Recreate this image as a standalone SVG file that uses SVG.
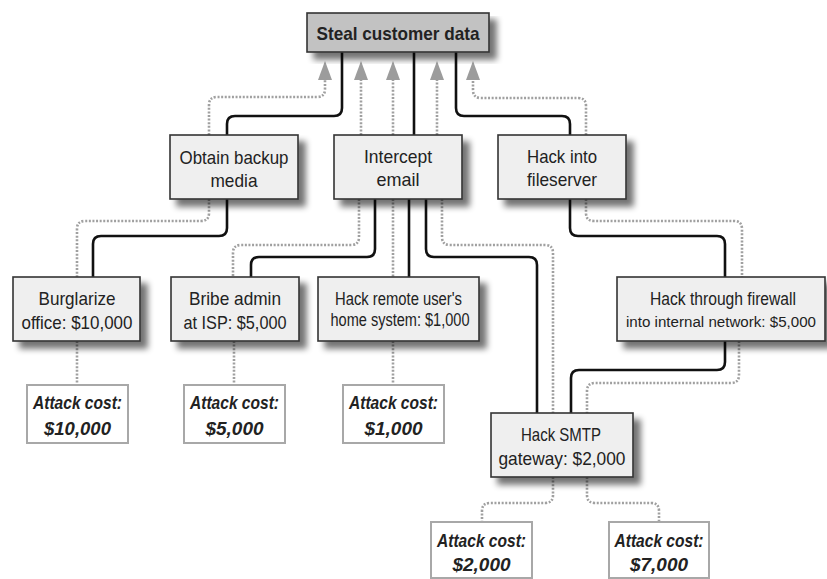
<svg xmlns="http://www.w3.org/2000/svg" width="827" height="579" viewBox="0 0 827 579">
<style>
  .box { fill: #efefef; stroke: #333; stroke-width: 1.6; filter: url(#shadow); }
  .root { fill: #c2c2c2; stroke: #333; stroke-width: 1.6; filter: url(#shadow); }
  .cost { fill: #ffffff; stroke: #a8a8a8; stroke-width: 2; }
  .t { font-family: "Liberation Sans", Arial, sans-serif; font-size: 19px; fill: #222; text-anchor: middle; }
  .tb { font-weight: bold; }
  .ts { font-size: 17.5px; }
  .tn { font-size: 15.5px; }
  .tc { font-family: "Liberation Sans", Arial, sans-serif; font-size: 18px; font-weight: bold; font-style: italic; fill: #222; text-anchor: middle; }
  .solid { fill: none; stroke: #111; stroke-width: 2.6; }
  .dot { fill: none; stroke: #a0a0a0; stroke-width: 2.6; stroke-dasharray: 2 1.6; }
</style>
<defs>
  <filter id="shadow" x="-10%" y="-10%" width="130%" height="140%">
    <feGaussianBlur in="SourceAlpha" stdDeviation="3"/>
    <feOffset dx="7" dy="7" result="b"/>
    <feComponentTransfer in="b" result="s"><feFuncA type="linear" slope="0.55"/></feComponentTransfer>
    <feMerge><feMergeNode in="s"/><feMergeNode in="SourceGraphic"/></feMerge>
  </filter>
  <marker id="arrow" markerUnits="userSpaceOnUse" markerWidth="19" markerHeight="14" refX="0" refY="7" orient="auto" viewBox="0 0 19 14">
    <path d="M0,0 L19,7 L0,14 z" fill="#9c9c9c"/>
  </marker>
</defs>

<g id="connectors">
  <path class="solid" d="M342,52 V108 Q342,116 334,116 H235 Q227,116 227,124 V135"/>
  <path class="solid" d="M414,52 V135"/>
  <path class="solid" d="M456,52 V108 Q456,116 464,116 H562 Q570,116 570,124 V135"/>
  <path class="dot" marker-end="url(#arrow)" d="M209,135 V105 Q209,97 217,97 H317 Q325,97 325,89 V80"/>
  <path class="dot" marker-end="url(#arrow)" d="M361,135 V80"/>
  <path class="dot" marker-end="url(#arrow)" d="M393,135 V80"/>
  <path class="dot" marker-end="url(#arrow)" d="M437,135 V80"/>
  <path class="dot" marker-end="url(#arrow)" d="M586,135 V106 Q586,98 578,98 H481 Q473,98 473,90 V80"/>
  <path class="solid" d="M227,199 V228 Q227,236 219,236 H101 Q93,236 93,244 V277"/>
  <path class="dot" d="M209,199 V213 Q209,221 201,221 H85 Q77,221 77,229 V277"/>
  <path class="solid" d="M375,199 V249 Q375,257 367,257 H259 Q251,257 251,265 V277"/>
  <path class="dot" d="M359,199 V237 Q359,245 351,245 H241 Q233,245 233,253 V277"/>
  <path class="solid" d="M409,199 V277"/>
  <path class="dot" d="M393,199 V277"/>
  <path class="solid" d="M426,199 V249 Q426,257 434,257 H529 Q537,257 537,265 V413"/>
  <path class="dot" d="M442,199 V237 Q442,245 450,245 H545 Q553,245 553,253 V413"/>
  <path class="solid" d="M570,199 V228 Q570,236 578,236 H717 Q725,236 725,244 V277"/>
  <path class="dot" d="M586,199 V213 Q586,221 594,221 H734 Q742,221 742,229 V277"/>
  <path class="solid" d="M725,341 V362 Q725,370 717,370 H579 Q571,370 571,378 V413"/>
  <path class="dot" d="M739,341 V375 Q739,383 731,383 H595 Q587,383 587,391 V413"/>
  <path class="dot" d="M553,477 V495 Q553,503 545,503 H490 Q482,503 482,511 V522"/>
  <path class="dot" d="M587,477 V495 Q587,503 595,503 H651 Q659,503 659,511 V522"/>
  <path class="dot" d="M77,341 V385"/>
  <path class="dot" d="M234,341 V385"/>
  <path class="dot" d="M393,341 V385"/>
</g>

<g id="steal">
  <rect class="root" x="307" y="13" width="182" height="39"/>
  <text class="t tb" x="398" y="40" textLength="163" lengthAdjust="spacingAndGlyphs">Steal customer data</text>
</g>
<g id="obtain">
  <rect class="box" x="170" y="135" width="128" height="64"/>
  <text class="t" x="234" y="164" textLength="109" lengthAdjust="spacingAndGlyphs">Obtain backup</text>
  <text class="t" x="234" y="187" textLength="47" lengthAdjust="spacingAndGlyphs">media</text>
</g>
<g id="intercept">
  <rect class="box" x="334" y="135" width="128" height="64"/>
  <text class="t" x="398" y="163" textLength="68" lengthAdjust="spacingAndGlyphs">Intercept</text>
  <text class="t" x="398" y="186" textLength="43" lengthAdjust="spacingAndGlyphs">email</text>
</g>
<g id="fileserver">
  <rect class="box" x="498" y="135" width="128" height="64"/>
  <text class="t" x="562" y="163" textLength="70" lengthAdjust="spacingAndGlyphs">Hack into</text>
  <text class="t" x="562" y="186" textLength="70" lengthAdjust="spacingAndGlyphs">fileserver</text>
</g>
<g id="burglarize">
  <rect class="box" x="13" y="277" width="127" height="64"/>
  <text class="t" x="77" y="305" textLength="77" lengthAdjust="spacingAndGlyphs">Burglarize</text>
  <text class="t" x="77" y="329" textLength="111" lengthAdjust="spacingAndGlyphs">office: $10,000</text>
</g>
<g id="bribe">
  <rect class="box" x="171" y="277" width="128" height="64"/>
  <text class="t" x="235" y="305" textLength="92" lengthAdjust="spacingAndGlyphs">Bribe admin</text>
  <text class="t" x="235" y="329" textLength="103" lengthAdjust="spacingAndGlyphs">at ISP: $5,000</text>
</g>
<g id="remote">
  <rect class="box" x="318" y="277" width="161" height="64"/>
  <text class="t ts" x="398.5" y="305" textLength="127" lengthAdjust="spacingAndGlyphs">Hack remote user's</text>
  <text class="t ts" x="400" y="326" textLength="139" lengthAdjust="spacingAndGlyphs">home system: $1,000</text>
</g>
<g id="firewall">
  <rect class="box" x="617" y="277" width="208" height="64"/>
  <text class="t ts" x="723" y="305" textLength="146" lengthAdjust="spacingAndGlyphs">Hack through firewall</text>
  <text class="t tn" x="721" y="327" textLength="190" lengthAdjust="spacingAndGlyphs">into internal network: $5,000</text>
</g>
<g id="smtp">
  <rect class="box" x="491" y="413" width="142" height="64"/>
  <text class="t" x="561" y="441" textLength="80" lengthAdjust="spacingAndGlyphs">Hack SMTP</text>
  <text class="t" x="562" y="465" textLength="127" lengthAdjust="spacingAndGlyphs">gateway: $2,000</text>
</g>
<g id="cost10000">
  <rect class="cost" x="27" y="385" width="101" height="58"/>
  <text class="tc" x="77.5" y="409" textLength="89" lengthAdjust="spacingAndGlyphs">Attack cost:</text>
  <text class="tc" x="77.5" y="435" textLength="67" lengthAdjust="spacingAndGlyphs">$10,000</text>
</g>
<g id="cost5000">
  <rect class="cost" x="184" y="385" width="101" height="58"/>
  <text class="tc" x="234.5" y="409" textLength="89" lengthAdjust="spacingAndGlyphs">Attack cost:</text>
  <text class="tc" x="234.5" y="435" textLength="58" lengthAdjust="spacingAndGlyphs">$5,000</text>
</g>
<g id="cost1000">
  <rect class="cost" x="343" y="385" width="101" height="58"/>
  <text class="tc" x="393.5" y="409" textLength="89" lengthAdjust="spacingAndGlyphs">Attack cost:</text>
  <text class="tc" x="393.5" y="435" textLength="58" lengthAdjust="spacingAndGlyphs">$1,000</text>
</g>
<g id="cost2000">
  <rect class="cost" x="431" y="522" width="101" height="56"/>
  <text class="tc" x="481.5" y="547" textLength="89" lengthAdjust="spacingAndGlyphs">Attack cost:</text>
  <text class="tc" x="481.5" y="571" textLength="58" lengthAdjust="spacingAndGlyphs">$2,000</text>
</g>
<g id="cost7000">
  <rect class="cost" x="609" y="522" width="100" height="56"/>
  <text class="tc" x="659" y="547" textLength="89" lengthAdjust="spacingAndGlyphs">Attack cost:</text>
  <text class="tc" x="659" y="571" textLength="58" lengthAdjust="spacingAndGlyphs">$7,000</text>
</g>
</svg>
